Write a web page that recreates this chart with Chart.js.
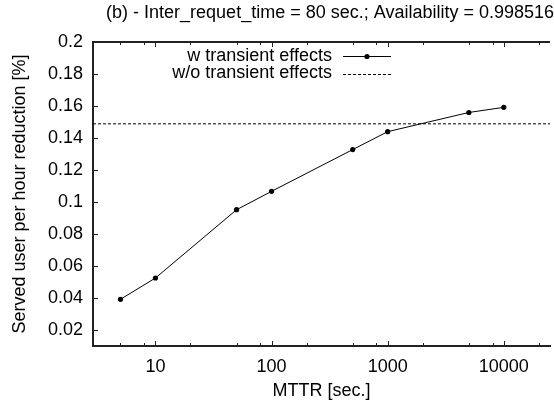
<!DOCTYPE html>
<html>
<head>
<meta charset="utf-8">
<script src="https://cdn.jsdelivr.net/npm/chart.js@4.4.1/dist/chart.umd.min.js"></script>
<style>
  html, body { margin: 0; padding: 0; background: #fff; }
  canvas { display: block; }
</style>
</head>
<body>
<canvas id="chart" width="554" height="408"></canvas>
<script>
// MTTR values (x) and served-user reduction (y)
const mttr = [5, 10, 50, 100, 500, 1000, 5000, 10000];
const withTransient = [0.0392, 0.0525, 0.0952, 0.1067, 0.1328, 0.144, 0.156, 0.1592];
const withoutTransient = 0.1489;

const xTickValues = [10, 100, 1000, 10000];
const xMinorSteps = [2, 5, 8];
const yTickValues = [0.02, 0.04, 0.06, 0.08, 0.1, 0.12, 0.14, 0.16, 0.18, 0.2];

const xMin = 2.9, xMax = 25000;
const yMin = 0.01, yMax = 0.2;

const FONT = '"Liberation Sans", Arial, sans-serif';
const FONT_SIZE = 18;

// gnuplot style inward ticks, top border line and the key
const gnuplotFrame = {
    id: 'gnuplotFrame',
    afterDraw(chart) {
        const ctx = chart.ctx;
        const area = chart.chartArea;
        const xs = chart.scales.x;
        const ys = chart.scales.y;

        ctx.save();
        ctx.strokeStyle = '#222';
        ctx.lineWidth = 2;
        ctx.beginPath();
        // top border
        ctx.moveTo(area.left, area.top);
        ctx.lineTo(area.right, area.top);
        ctx.stroke();

        ctx.lineWidth = 1;
        ctx.beginPath();
        // x ticks, bottom and top
        for (let dec = 1; dec <= 10000; dec *= 10) {
            const major = dec * 10;
            if (major <= xMax) {
                const px = Math.round(xs.getPixelForValue(major)) + 0.5;
                ctx.moveTo(px, area.bottom);
                ctx.lineTo(px, area.bottom - 5);
                ctx.moveTo(px, area.top);
                ctx.lineTo(px, area.top + 5);
            }
            xMinorSteps.forEach(m => {
                const v = m * dec;
                if (v < xMin || v > xMax) return;
                const px = Math.round(xs.getPixelForValue(v)) + 0.5;
                ctx.moveTo(px, area.bottom);
                ctx.lineTo(px, area.bottom - 3);
                ctx.moveTo(px, area.top);
                ctx.lineTo(px, area.top + 3);
            });
        }

        // y ticks
        yTickValues.forEach(v => {
            const py = Math.round(ys.getPixelForValue(v)) + 0.5;
            ctx.moveTo(area.left, py);
            ctx.lineTo(area.left + 5, py);
        });
        ctx.stroke();

        // key
        const textRight = 332;
        const sampleLeft = 343, sampleRight = 391;
        const rows = [56, 73.5];
        ctx.font = FONT_SIZE + 'px ' + FONT;
        ctx.fillStyle = '#000';
        ctx.textAlign = 'right';
        ctx.textBaseline = 'middle';
        chart.data.datasets.forEach((ds, i) => {
            const y = rows[i];
            ctx.fillText(ds.label, textRight, y);
            ctx.beginPath();
            ctx.setLineDash(ds.borderDash || []);
            ctx.strokeStyle = ds.borderColor;
            ctx.lineWidth = ds.borderWidth;
            ctx.moveTo(sampleLeft, Math.round(y) + 0.5);
            ctx.lineTo(sampleRight, Math.round(y) + 0.5);
            ctx.stroke();
            ctx.setLineDash([]);
            if (ds.pointRadius > 0) {
                ctx.beginPath();
                ctx.fillStyle = ds.pointBackgroundColor;
                ctx.arc((sampleLeft + sampleRight) / 2, Math.round(y) + 0.5, ds.pointRadius, 0, Math.PI * 2);
                ctx.fill();
                ctx.fillStyle = '#000';
            }
        });
        ctx.restore();
    }
};

const ctx = document.getElementById('chart').getContext('2d');
new Chart(ctx, {
    type: 'line',
    data: {
        datasets: [{
            label: 'w transient effects',
            data: mttr.map((x, i) => ({ x: x, y: withTransient[i] })),
            borderColor: '#000',
            borderWidth: 1,
            pointRadius: 2.6,
            pointBackgroundColor: '#000',
            pointBorderWidth: 0,
            tension: 0
        }, {
            label: 'w/o transient effects',
            data: [{ x: xMin, y: withoutTransient }, { x: xMax, y: withoutTransient }],
            borderColor: '#000',
            borderWidth: 1,
            borderDash: [3, 2],
            pointRadius: 0,
            tension: 0
        }]
    },
    options: {
        responsive: false,
        animation: false,
        devicePixelRatio: 1,
        layout: {
            padding: { left: 0, right: 0, top: 0, bottom: 0 }
        },
        plugins: {
            legend: { display: false },
            tooltip: { enabled: false },
            title: {
                display: true,
                text: '(b) - Inter_requet_time = 80 sec.; Availability = 0.998516',
                align: 'end',
                color: '#000',
                font: { family: FONT, size: FONT_SIZE, weight: 'normal' },
                padding: { top: 2, bottom: 18.5 }
            }
        },
        scales: {
            x: {
                type: 'logarithmic',
                min: xMin,
                max: xMax,
                grid: { display: false, drawTicks: false },
                border: { display: true, color: '#222', width: 2 },
                afterBuildTicks: scale => {
                    scale.ticks = xTickValues.map(v => ({ value: v, major: true }));
                },
                afterFit: scale => { scale.height = 62; },
                ticks: {
                    color: '#000',
                    font: { family: FONT, size: FONT_SIZE },
                    padding: 10,
                    maxRotation: 0,
                    autoSkip: false,
                    callback: v => String(v)
                },
                title: {
                    display: true,
                    text: 'MTTR [sec.]',
                    color: '#000',
                    font: { family: FONT, size: FONT_SIZE },
                    padding: { top: 0, bottom: 6 }
                }
            },
            y: {
                type: 'linear',
                min: yMin,
                max: yMax,
                grid: { display: false, drawTicks: false },
                border: { display: true, color: '#222', width: 2 },
                afterBuildTicks: scale => {
                    scale.ticks = yTickValues.map(v => ({ value: v }));
                },
                afterFit: scale => { scale.width = 93; },
                ticks: {
                    color: '#000',
                    font: { family: FONT, size: FONT_SIZE },
                    padding: 10,
                    callback: v => String(+v.toFixed(2))
                },
                title: {
                    display: true,
                    text: 'Served user per hour reduction [%]',
                    color: '#000',
                    font: { family: FONT, size: FONT_SIZE },
                    padding: { top: 9, bottom: 0 }
                }
            }
        }
    },
    plugins: [gnuplotFrame]
});
</script>
</body>
</html>
